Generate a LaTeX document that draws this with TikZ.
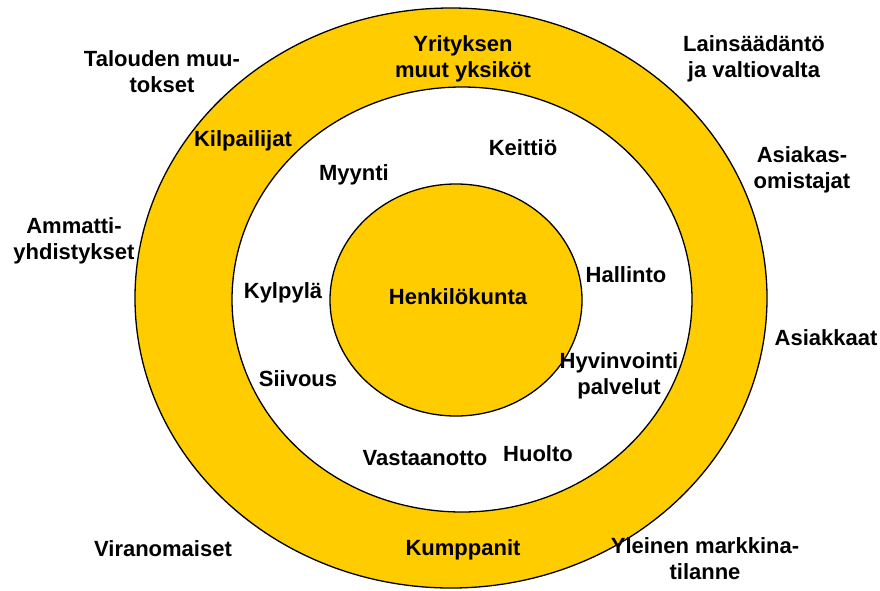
\documentclass[tikz,border=0pt]{standalone}
\usepackage{fontspec}
\setmainfont{Liberation Sans}
\definecolor{ringyellow}{RGB}{255,204,0}
\begin{document}
\begin{tikzpicture}[x=1pt,y=-1pt,
  ring/.style={fill=ringyellow,draw=black,line width=1.3pt},
  hole/.style={fill=white,draw=black,line width=1.3pt},
  lbl/.style={font=\bfseries\fontsize{22}{26}\selectfont,inner sep=0pt,anchor=base},
  mlbl/.style={font=\bfseries\fontsize{22}{26}\selectfont,inner sep=0pt,anchor=north,align=center}]
\useasboundingbox (0,0) rectangle (880,590);
\fill[white] (0,0) rectangle (880,590);
% rings
\draw[ring] (451,298) ellipse [x radius=316pt, y radius=290pt];
\draw[hole] (462,299.5) ellipse [x radius=230pt, y radius=212.5pt];
\draw[ring] (456,300) ellipse [x radius=126pt, y radius=116pt];
% outer labels
\node[mlbl] (talous) at (162,50) {Talouden muu-\\tokset};
\node[mlbl] (yritys) at (463,35) {Yrityksen\\muut yksiköt};
\node[mlbl] (laki) at (754,35) {Lainsäädäntö\\ja valtiovalta};
\node[mlbl] (omistajat) at (802,146) {Asiakas-\\omistajat};
\node[mlbl] (ammatti) at (74,217) {Ammatti-\\yhdistykset};
\node[lbl] (asiakkaat) at (826,345) {Asiakkaat};
\node[lbl] (viranom) at (163,556) {Viranomaiset};
\node[lbl] (kumpp) at (463,555) {Kumppanit};
\node[mlbl] (markkina) at (705,537) {Yleinen markkina-\\tilanne};
\node[lbl] (kilp) at (243,146) {Kilpailijat};
% middle ring labels
\node[lbl] (keittio) at (523,155) {Keittiö};
\node[lbl] (myynti) at (354,180) {Myynti};
\node[lbl] (kylpyla) at (283,298) {Kylpylä};
\node[lbl] (siivous) at (298,386) {Siivous};
\node[lbl] (hallinto) at (626,282) {Hallinto};
\node[mlbl] (hyvinv) at (619,352) {Hyvinvointi\\palvelut};
\node[lbl] (vastaan) at (425,465) {Vastaanotto};
\node[lbl] (huolto) at (538,461) {Huolto};
% centre
\node[lbl] (henk) at (458,304) {Henkilökunta};
\end{tikzpicture}
\end{document}
